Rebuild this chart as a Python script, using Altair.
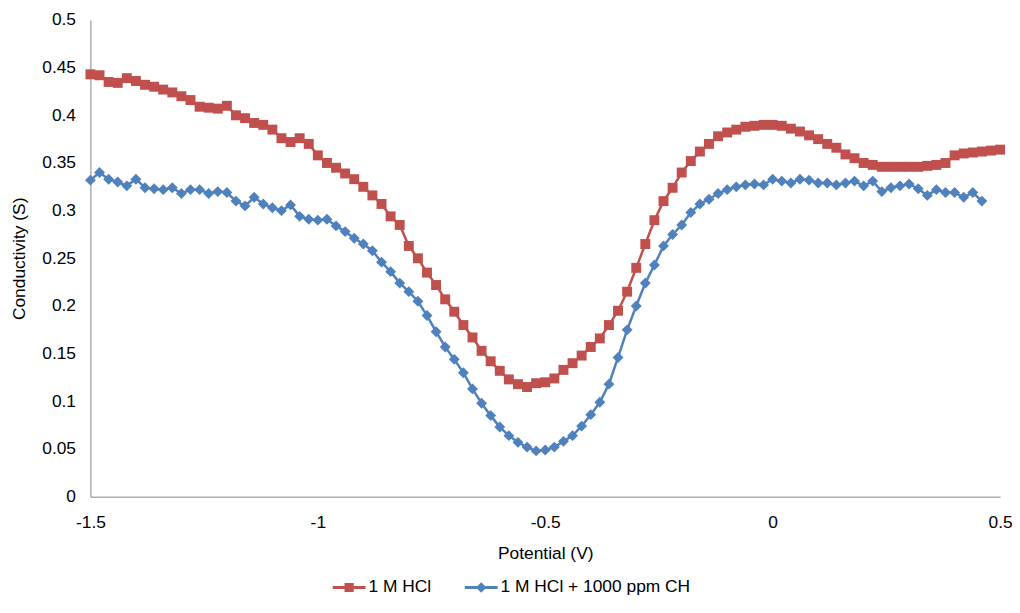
import altair as alt
import pandas as pd

# Potential grid: starts at -1.5 V, one reading every 0.02 V
x_start = -1.5
x_step = 0.02

# 1 M HCl, -1.50 ... 0.50 V
hcl = [
    0.443, 0.442, 0.435, 0.434, 0.439, 0.436, 0.432, 0.430, 0.427, 0.424,
    0.420, 0.416, 0.409, 0.408, 0.407, 0.410, 0.400, 0.397, 0.392, 0.390,
    0.385, 0.376, 0.372, 0.376, 0.370, 0.358, 0.350, 0.345, 0.339, 0.333,
    0.325, 0.316, 0.307, 0.294, 0.285, 0.263, 0.250, 0.235, 0.222, 0.207,
    0.194, 0.180, 0.167, 0.153, 0.142, 0.132, 0.123, 0.118, 0.115, 0.119,
    0.120, 0.124, 0.133, 0.140, 0.148, 0.157, 0.166, 0.180, 0.195, 0.215,
    0.240, 0.265, 0.290, 0.310, 0.324, 0.340, 0.352, 0.362, 0.370, 0.378,
    0.382, 0.385, 0.388, 0.389, 0.390, 0.390, 0.389, 0.386, 0.383, 0.379,
    0.375, 0.370, 0.366, 0.359, 0.355, 0.350, 0.348, 0.346, 0.346, 0.346,
    0.346, 0.346, 0.347, 0.348, 0.350, 0.358, 0.360, 0.361, 0.362, 0.363,
    0.364,
]

# 1 M HCl + 1000 ppm CH, -1.50 ... 0.46 V
hcl_ch = [
    0.332, 0.340, 0.333, 0.330, 0.326, 0.333, 0.324, 0.323, 0.322, 0.324,
    0.318, 0.322, 0.322, 0.318, 0.320, 0.319, 0.310, 0.305, 0.314, 0.307,
    0.303, 0.300, 0.306, 0.294, 0.291, 0.290, 0.291, 0.284, 0.278, 0.271,
    0.265, 0.258, 0.246, 0.236, 0.224, 0.215, 0.205, 0.190, 0.173, 0.157,
    0.144, 0.130, 0.113, 0.098, 0.085, 0.073, 0.064, 0.057, 0.052, 0.048,
    0.049, 0.052, 0.058, 0.064, 0.074, 0.086, 0.099, 0.118, 0.146, 0.175,
    0.200, 0.224, 0.243, 0.263, 0.275, 0.285, 0.298, 0.307, 0.312, 0.318,
    0.322, 0.325, 0.327, 0.328, 0.327, 0.333, 0.331, 0.329, 0.333, 0.332,
    0.329, 0.329, 0.327, 0.329, 0.331, 0.326, 0.331, 0.320, 0.324, 0.326,
    0.328, 0.323, 0.316, 0.322, 0.319, 0.319, 0.314, 0.319, 0.310,
]

series_names = ["1 M HCl", "1 M HCl + 1000 ppm CH"]
series_colors = ["#C0504D", "#4F81BD"]
x_ticks = [-1.5, -1, -0.5, 0, 0.5]
y_ticks = [0, 0.05, 0.1, 0.15, 0.2, 0.25, 0.3, 0.35, 0.4, 0.45, 0.5]

rows = []
for name, vals in zip(series_names, [hcl, hcl_ch]):
    for i, v in enumerate(vals):
        rows.append({"potential": round(x_start + i * x_step, 2),
                     "conductivity": v, "series": name})
df = pd.DataFrame(rows)

FONT = "Liberation Sans"
FS = 17.5

# legend glyphs: a short line with the series marker on it
legend_shapes = [
    "M-1,-0.09H1V0.09H-1Z M-0.28,-0.28H0.28V0.28H-0.28Z",
    "M-1,-0.09H1V0.09H-1Z M0,-0.32L0.32,0L0,0.32L-0.32,0Z",
]

x = alt.X(
    "potential:Q",
    scale=alt.Scale(domain=[-1.5, 0.5], nice=False, zero=False),
    axis=alt.Axis(
        title="Potential (V)", values=x_ticks, labelExpr="toString(datum.value)",
        grid=False, ticks=False, tickSize=0, labelPadding=17, titlePadding=14,
        domainColor="#868686", labelFont=FONT, labelFontSize=FS, labelColor="#000000",
        titleFont=FONT, titleFontSize=FS, titleFontWeight="normal", titleColor="#000000",
        labelFlush=False, labelOverlap=False,
    ),
)
y = alt.Y(
    "conductivity:Q",
    scale=alt.Scale(domain=[0, 0.5], nice=False),
    axis=alt.Axis(
        title="Conductivity (S)", values=y_ticks, labelExpr="toString(datum.value)",
        grid=False, ticks=False, tickSize=0, labelPadding=15, titlePadding=13,
        domainColor="#868686", labelFont=FONT, labelFontSize=FS, labelColor="#000000",
        titleFont=FONT, titleFontSize=FS, titleFontWeight="normal", titleColor="#000000",
        labelFlush=False, labelOverlap=False,
    ),
)

base = alt.Chart(df).encode(x=x, y=y, order="potential:Q")

red = base.transform_filter(alt.datum.series == series_names[0])
blue = base.transform_filter(alt.datum.series == series_names[1])

red_line = red.mark_line(strokeWidth=2.5, color=series_colors[0])
red_pts = red.mark_point(shape="square", filled=True, size=100, opacity=1, color=series_colors[0])
blue_line = blue.mark_line(strokeWidth=2.5, color=series_colors[1])
blue_pts = blue.mark_point(shape="diamond", filled=True, size=120, opacity=1, color=series_colors[1])

legend = alt.Legend(
    title=None,
    orient="none",
    legendX=244,
    legendY=555,
    direction="horizontal",
    symbolSize=1089,
    symbolStrokeWidth=0,
    symbolOpacity=1,
    labelFont=FONT,
    labelFontSize=FS,
    labelColor="#000000",
    labelOffset=3,
    labelLimit=400,
    columnPadding=33,
)

# empty layer that only carries the legend (colour + glyph per series)
legend_layer = alt.Chart(df).transform_filter("false").mark_point(
    filled=True, opacity=1
).encode(
    x=x, y=y,
    color=alt.Color("series:N", scale=alt.Scale(domain=series_names, range=series_colors),
                    legend=legend),
    shape=alt.Shape("series:N", scale=alt.Scale(domain=series_names, range=legend_shapes),
                    legend=legend),
)

chart = alt.layer(legend_layer, red_line, red_pts, blue_line, blue_pts).properties(
    width=916,
    height=480,
    autosize=alt.AutoSizeParams(type="none"),
    padding={"left": 83, "top": 10, "right": 12, "bottom": 102},
).configure_view(stroke=None)

chart.save("out.html", embed_options={"renderer": "svg", "actions": False})
